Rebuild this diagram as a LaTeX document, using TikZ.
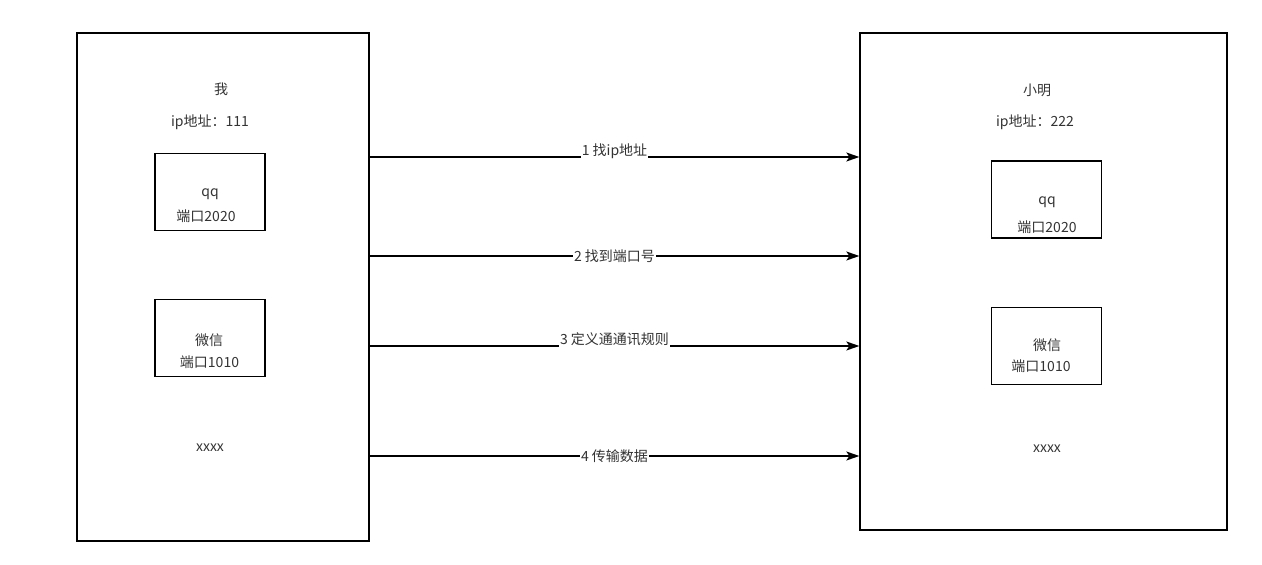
\documentclass[tikz,border=0pt]{standalone}
\usepackage{fontspec}
\setmainfont{Noto Sans CJK SC}
\usetikzlibrary{arrows.meta}
\definecolor{txtgray}{HTML}{333333}
\tikzset{
  hostbox/.style={draw, line width=1.3pt, minimum width=#1, inner sep=0pt},
  portbox/.style={draw, line width=1.3pt, minimum width=110pt, minimum height=77pt},
  lbl/.style={text=txtgray, font=\fontsize{14}{16}\selectfont, inner sep=1pt},
  msg/.style={line width=1.3pt, -{Stealth[length=13pt,width=9pt,inset=3pt]}}
}
\begin{document}
\begin{tikzpicture}[x=1pt,y=-1pt]
\useasboundingbox (0,0) rectangle (1262,565);

%Me
\node[hostbox=292pt, minimum height=508pt] (me) at (223,287) {};
\node[lbl] (meName) at (221,89) {我};
\node[lbl] (meIp) at (210,122) {ip地址：111};
\node[portbox] (meQQ) at (210,192) {};
\node[lbl] (meQQa) at (210,194) {qq};
\node[lbl] (meQQb) at (206,216) {端口2020};
\node[portbox] (meWx) at (210,338) {};
\node[lbl] (meWxa) at (209,340) {微信};
\node[lbl] (meWxb) at (209.5,362) {端口1010};
\node[lbl] (meEtc) at (210,448) {xxxx};

%Xiaoming
\node[hostbox=367pt, minimum height=497pt] (xm) at (1043.5,281.5) {};
\node[lbl] (xmName) at (1037,90) {小明};
\node[lbl] (xmIp) at (1035,122) {ip地址：222};
\node[portbox] (xmQQ) at (1046.5,199.5) {};
\node[lbl] (xmQQa) at (1047,202) {qq};
\node[lbl] (xmQQb) at (1047,227) {端口2020};
\node[portbox] (xmWx) at (1046.5,346) {};
\node[lbl] (xmWxa) at (1047,345) {微信};
\node[lbl] (xmWxb) at (1041,366) {端口1010};
\node[lbl] (xmEtc) at (1047,449) {xxxx};

%Steps
\coordinate (s1) at (0,157);
\coordinate (s2) at (0,256);
\coordinate (s3) at (0,346);
\coordinate (s4) at (0,456);
\draw[msg] (me.east |- s1) -- (xm.west |- s1) node[lbl, pos=.5, fill=white, yshift=6pt] {1 找ip地址};
\draw[msg] (me.east |- s2) -- (xm.west |- s2) node[lbl, pos=.5, fill=white] {2 找到端口号};
\draw[msg] (me.east |- s3) -- (xm.west |- s3) node[lbl, pos=.5, fill=white, yshift=7pt] {3 定义通通讯规则};
\draw[msg] (me.east |- s4) -- (xm.west |- s4) node[lbl, pos=.5, fill=white] {4 传输数据};
\end{tikzpicture}
\end{document}
